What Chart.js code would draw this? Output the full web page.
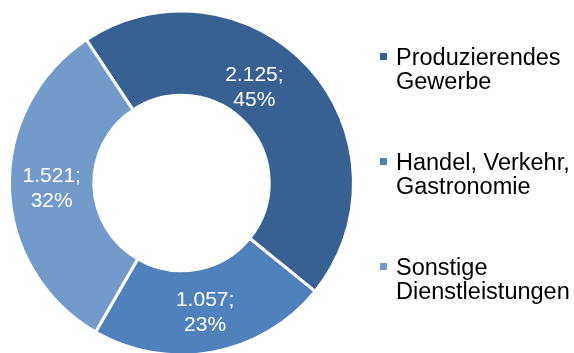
<!DOCTYPE html>
<html>
<head>
<meta charset="utf-8">
<script src="https://cdn.jsdelivr.net/npm/chart.js@4/dist/chart.umd.min.js"></script>
<style>
    html, body { margin: 0; padding: 0; background: #fff; overflow: hidden; }
    #wrap { position: relative; width: 574px; height: 353px; overflow: hidden; }
    #chart { position: absolute; left: 0; top: 0; }
    .legend-item { position: absolute; left: 396px; font: 23.5px "Liberation Sans", Arial, sans-serif; line-height: 24px; color: #000; white-space: nowrap; }
    .legend-item .box { position: absolute; left: -16px; top: 8px; width: 7px; height: 7px; }
</style>
</head>
<body>
<div id="wrap">
    <canvas id="chart" width="574" height="357"></canvas>
    <div id="legend"></div>
</div>
<script>
const categories = [
    ['Produzierendes', 'Gewerbe'],
    ['Handel, Verkehr,', 'Gastronomie'],
    ['Sonstige', 'Dienstleistungen']
];
const values = [2125, 1057, 1521];
const shares = [45, 23, 32];   // percentages as printed in the chart
const colors = ['#386193', '#4f81bd', '#729aca'];

function formatDe(n) {
    return String(n).replace(/\B(?=(\d{3})+(?!\d))/g, '.');
}

// labels inside the ring, two lines each
const ringLabels = {
    id: 'ringLabels',
    afterDatasetsDraw(chart, args, opts) {
        const ctx = chart.ctx;
        const meta = chart.getDatasetMeta(0);
        ctx.save();
        ctx.fillStyle = '#fff';
        ctx.font = '21px "Liberation Sans", Arial, sans-serif';
        ctx.textAlign = 'center';
        ctx.textBaseline = 'middle';
        meta.data.forEach((arc, i) => {
            const p = arc.getProps(['x', 'y', 'startAngle', 'endAngle', 'innerRadius', 'outerRadius'], true);
            const a = (p.startAngle + p.endAngle) / 2 + (opts.turn[i] || 0) * Math.PI / 180;
            const r = (p.innerRadius + p.outerRadius) / 2 + (opts.pull[i] || 0);
            const x = p.x + r * Math.cos(a);
            const y = p.y + r * Math.sin(a) + 2;
            ctx.fillText(formatDe(values[i]) + ';', x, y - 12.5);
            ctx.fillText(shares[i] + '%', x, y + 12.5);
        });
        ctx.restore();
    }
};

new Chart(document.getElementById('chart'), {
    type: 'doughnut',
    data: {
        labels: categories.map(c => c.join(' ')),
        datasets: [{
            data: values,
            backgroundColor: colors,
            borderColor: '#fff',
            borderWidth: 3
        }]
    },
    options: {
        responsive: false,
        animation: false,
        cutout: '51%',
        rotation: -33.6,
        layout: { padding: { left: 8, right: 219, top: 9, bottom: 0 } },
        plugins: {
            legend: { display: false },
            tooltip: { enabled: false },
            ringLabels: { turn: [-11, 0, 0], pull: [-8, 0, 0] }
        }
    },
    plugins: [ringLabels]
});

// legend on the right
const legend = document.getElementById('legend');
const legendTops = [45, 150, 255];
categories.forEach((lines, i) => {
    const item = document.createElement('div');
    item.className = 'legend-item';
    item.style.top = legendTops[i] + 'px';
    item.innerHTML = '<span class="box" style="background:' + colors[i] + '"></span>' + lines.join('<br>');
    legend.appendChild(item);
});
</script>
</body>
</html>
